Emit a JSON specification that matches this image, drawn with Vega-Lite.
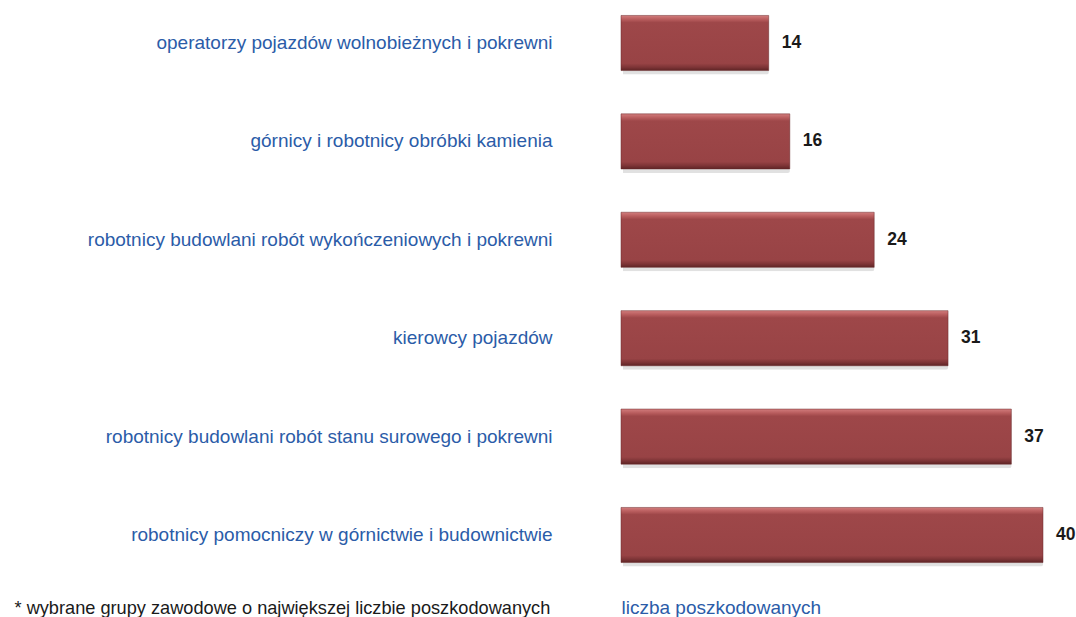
{
  "$schema": "https://vega.github.io/schema/vega-lite/v6.json",
  "autosize": "none",
  "width": 422,
  "height": 578,
  "padding": {"left": 621, "top": 0, "right": 33, "bottom": 39},
  "background": "white",
  "config": {"view": {"stroke": null}, "font": "Liberation Sans"},
  "data": {
    "values": [
      {"grupa": "operatorzy pojazdów wolnobieżnych i pokrewni", "liczba": 14},
      {"grupa": "górnicy i robotnicy obróbki kamienia", "liczba": 16},
      {"grupa": "robotnicy budowlani robót wykończeniowych i pokrewni", "liczba": 24},
      {"grupa": "kierowcy pojazdów", "liczba": 31},
      {"grupa": "robotnicy budowlani robót stanu surowego i pokrewni", "liczba": 37},
      {"grupa": "robotnicy pomocniczy w górnictwie i budownictwie", "liczba": 40}
    ]
  },
  "encoding": {
    "y": {
      "field": "grupa",
      "type": "nominal",
      "sort": null,
      "scale": {"paddingInner": 0.44, "paddingOuter": 0.157},
      "axis": {
        "title": "* wybrane grupy zawodowe o największej liczbie poszkodowanych",
        "titleAngle": 0,
        "titleX": -607,
        "titleY": 613,
        "titleAlign": "left",
        "titleAnchor": null,
        "titleBaseline": "alphabetic",
        "titleFontSize": 18.2,
        "titleFontWeight": "normal",
        "titleColor": "#1a1a1a",
        "titleFont": "Liberation Sans",
        "domain": false,
        "ticks": false,
        "labelPadding": 69,
        "labelFontSize": 19,
        "labelColor": "#2b5ca8",
        "labelLimit": 600,
        "labelFont": "Liberation Sans"
      }
    },
    "x": {
      "field": "liczba",
      "type": "quantitative",
      "scale": {"domain": [0, 40], "nice": false},
      "axis": {
        "title": "liczba poszkodowanych",
        "titleAnchor": "start",
        "titleX": 0,
        "titleY": 35,
        "titleBaseline": "alphabetic",
        "titleFontSize": 19,
        "titleFontWeight": "normal",
        "titleColor": "#2b5ca8",
        "titleFont": "Liberation Sans",
        "domain": false,
        "ticks": false,
        "labels": false,
        "grid": false
      }
    }
  },
  "layer": [
    {
      "mark": {"type": "bar", "color": "#777777", "opacity": 0.22, "yOffset": 4, "xOffset": 2, "cornerRadius": 2}
    },
    {
      "mark": {
        "type": "bar",
        "stroke": "#6a2a2c",
        "strokeWidth": 0.5,
        "color": {
          "gradient": "linear",
          "x1": 0, "y1": 0, "x2": 0, "y2": 1,
          "stops": [
            {"offset": 0, "color": "#d27d7d"},
            {"offset": 0.07, "color": "#b95d5e"},
            {"offset": 0.13, "color": "#9e4749"},
            {"offset": 0.87, "color": "#984345"},
            {"offset": 0.94, "color": "#7d3436"},
            {"offset": 1, "color": "#5e2425"}
          ]
        }
      }
    },
    {
      "mark": {"type": "text", "align": "left", "baseline": "middle", "dx": 13, "fontSize": 17.5, "fontWeight": "bold", "color": "#1a1a1a", "font": "Liberation Sans"},
      "encoding": {"text": {"field": "liczba", "type": "quantitative"}}
    }
  ]
}
